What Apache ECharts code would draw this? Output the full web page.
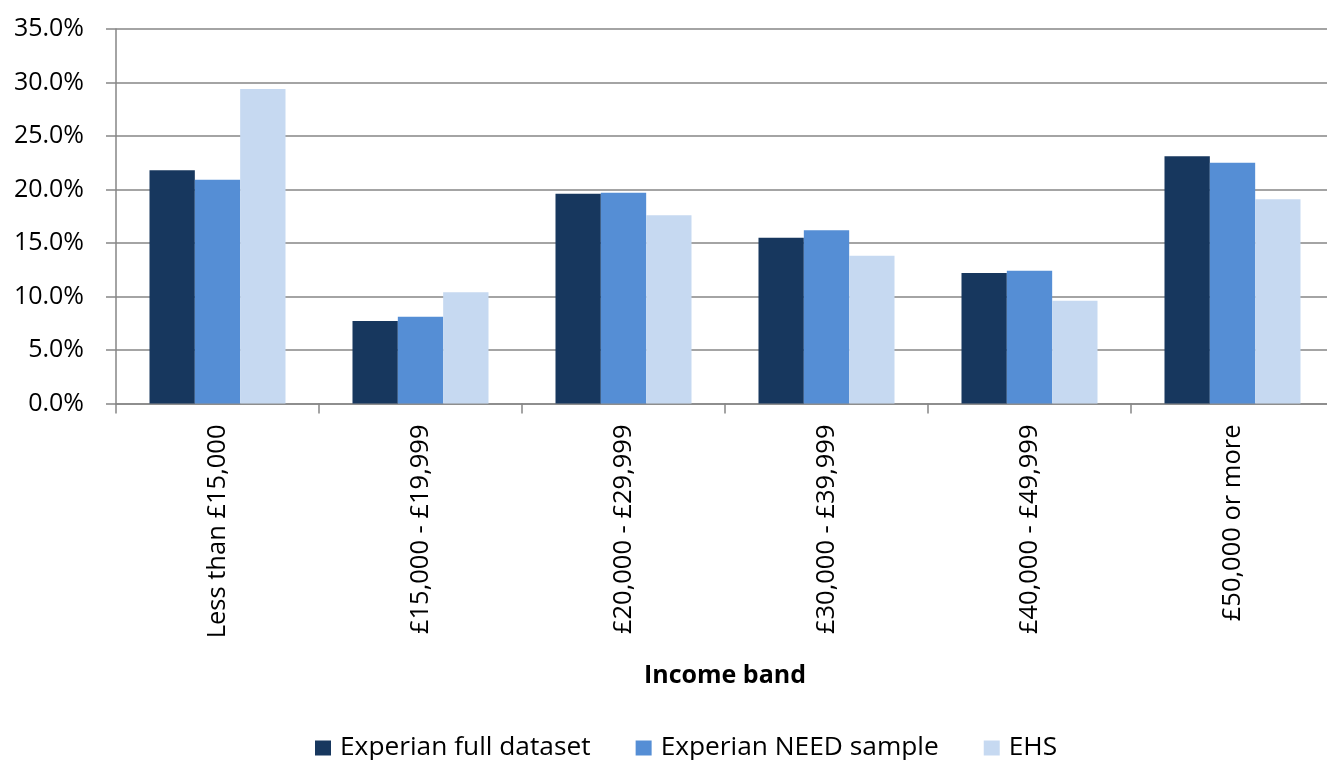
<!DOCTYPE html>
<html>
<head>
<meta charset="utf-8">
<script src="https://cdn.jsdelivr.net/npm/echarts@6/dist/echarts.min.js"></script>
<style>
  html, body { margin: 0; padding: 0; background: #fff; overflow: hidden; }
  /* plot area runs slightly past the right edge of the window */
  #chart { width: 1340px; height: 760px; }
</style>
</head>
<body>
<div id="chart"></div>
<script>
// Share of households in each income band (%)
const incomeBands = ['Less than £15,000', '£15,000 - £19,999', '£20,000 - £29,999', '£30,000 - £39,999', '£40,000 - £49,999', '£50,000 or more'];
const experianFull = [21.8, 7.7, 19.6, 15.5, 12.2, 23.1];
const experianNeed = [20.9, 8.1, 19.7, 16.2, 12.4, 22.5];
const ehs = [29.4, 10.4, 17.6, 13.8, 9.6, 19.1];
const yTicks = [0, 5, 10, 15, 20, 25, 30, 35];

const FONT = 'Open Sans';
const chart = echarts.init(document.getElementById('chart'), null, { renderer: 'canvas' });

const mkSeries = (name, data, color) => ({
  name, type: 'bar', data,
  barCategoryGap: '33%', barGap: '0%',
  itemStyle: { color },
  emphasis: { disabled: true }
});

chart.setOption({
  animation: false,
  textStyle: { fontFamily: FONT },
  grid: { left: 116, top: 29, right: 6, bottom: 356.5, containLabel: false },
  legend: {
    top: 733, left: 315, padding: 0,
    itemWidth: 16, itemHeight: 15, itemGap: 45,
    icon: 'rect',
    textStyle: { fontFamily: FONT, fontSize: 26.3, lineHeight: 30, color: '#000', padding: [0, 0, 0, 4] },
    data: ['Experian full dataset', 'Experian NEED sample', 'EHS']
  },
  xAxis: {
    type: 'category',
    data: incomeBands,
    name: 'Income band',
    nameLocation: 'middle',
    nameGap: 260,
    nameTextStyle: { fontFamily: FONT, fontSize: 25, fontWeight: 'bold', color: '#000' },
    axisLine: { lineStyle: { color: '#868686', width: 1.5 } },
    axisTick: { show: true, length: 10, lineStyle: { color: '#868686', width: 1.5 } },
    axisLabel: { rotate: 90, margin: 21, fontFamily: FONT, fontSize: 25.5, color: '#000' }
  },
  yAxis: {
    type: 'value',
    min: 0, max: 35, interval: 5,
    axisLine: { show: true, lineStyle: { color: '#868686', width: 1.5 } },
    axisTick: { show: true, length: 10, lineStyle: { color: '#868686', width: 1.5 } },
    splitLine: { lineStyle: { color: '#868686', width: 1.5 } },
    axisLabel: {
      margin: 32, fontFamily: FONT, fontSize: 25, color: '#000',
      formatter: v => yTicks.includes(v) ? v.toFixed(1) + '%' : ''
    }
  },
  series: [
    mkSeries('Experian full dataset', experianFull, '#17375E'),
    mkSeries('Experian NEED sample', experianNeed, '#558ED5'),
    mkSeries('EHS', ehs, '#C6D9F1')
  ]
});
</script>
</body>
</html>
